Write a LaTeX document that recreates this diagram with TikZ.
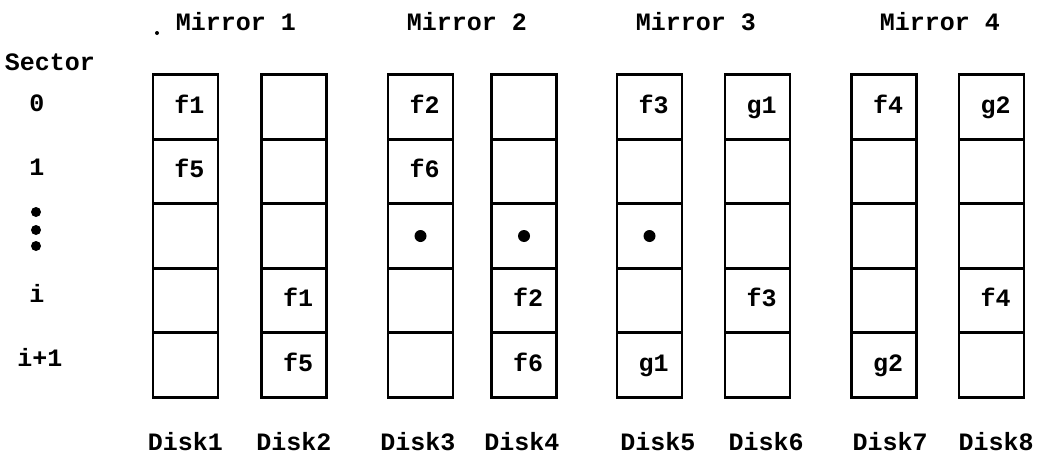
\documentclass[tikz,border=0pt]{standalone}
\usepackage{fontspec}
\setmainfont{Liberation Mono}
\begin{document}
\begin{tikzpicture}[x=1pt,y=-1pt,
  cell/.style={draw, line width=2.8pt, minimum width=65pt, minimum height=64.4pt, inner sep=0pt, outer sep=0pt},
  txt/.style={font=\bfseries\fontsize{25}{28}\selectfont, inner sep=0pt},
  ctxt/.style={txt, text height=12pt, text depth=0pt},
  bigdot/.style={circle, fill, minimum size=12pt, inner sep=0pt},
  smalldot/.style={circle, fill, minimum size=10pt, inner sep=0pt}]
\useasboundingbox (0,0) rectangle (1037,458);
% disks
\foreach \d/\x in {1/185.5,2/294,3/420.5,4/524,5/649.5,6/757.5,7/884,8/991.5}{
  \foreach \r/\y in {0/107,1/171.5,2/236,3/300.5,4/365}{
    \node[cell] (d\d r\r) at (\x,\y) {};
  }
}
% cell contents
\foreach \n/\c/\t in {a/d1r0/f1, b/d1r1/f5, c/d2r3/f1, d/d2r4/f5,
  e/d3r0/f2, f/d3r1/f6, g/d4r3/f2, h/d4r4/f6,
  i/d5r0/f3, j/d5r4/g1, k/d6r0/g1, l/d6r3/f3,
  m/d7r0/f4, n/d7r4/g2, o/d8r0/g2, p/d8r3/f4}{
  \node[ctxt] (c\n) at ([xshift=4pt]\c.center) {\t};
}
\node[bigdot] (q3) at (d3r2.center) {};
\node[bigdot] (q4) at (d4r2.center) {};
\node[bigdot] (q5) at (d5r2.center) {};
% mirror labels
\node[txt] (m1) at (236,22) {Mirror 1};
\node[txt] (m2) at (467,22) {Mirror 2};
\node[txt] (m3) at (696,22) {Mirror 3};
\node[txt] (m4) at (940,22) {Mirror 4};
\node[circle, fill, minimum size=4pt, inner sep=0pt] (sd) at (157,33) {};
% sector labels
\node[txt] (sec) at (50,62) {Sector};
\node[ctxt] (s0) at (37,105) {0};
\node[ctxt] (s1) at (37,169) {1};
\node[smalldot] (v1) at (36,212) {};
\node[smalldot] (v2) at (36,230) {};
\node[smalldot] (v3) at (36,246) {};
\node[ctxt] (si) at (37,296) {i};
\node[ctxt] (si1) at (40,360) {i+1};
% disk labels
\foreach \d/\x in {1/185.5,2/294,3/418,4/522,5/658,6/766,7/890,8/996}{
  \node[ctxt] (dl\d) at (\x,444) {Disk\d};
}
\end{tikzpicture}
\end{document}
